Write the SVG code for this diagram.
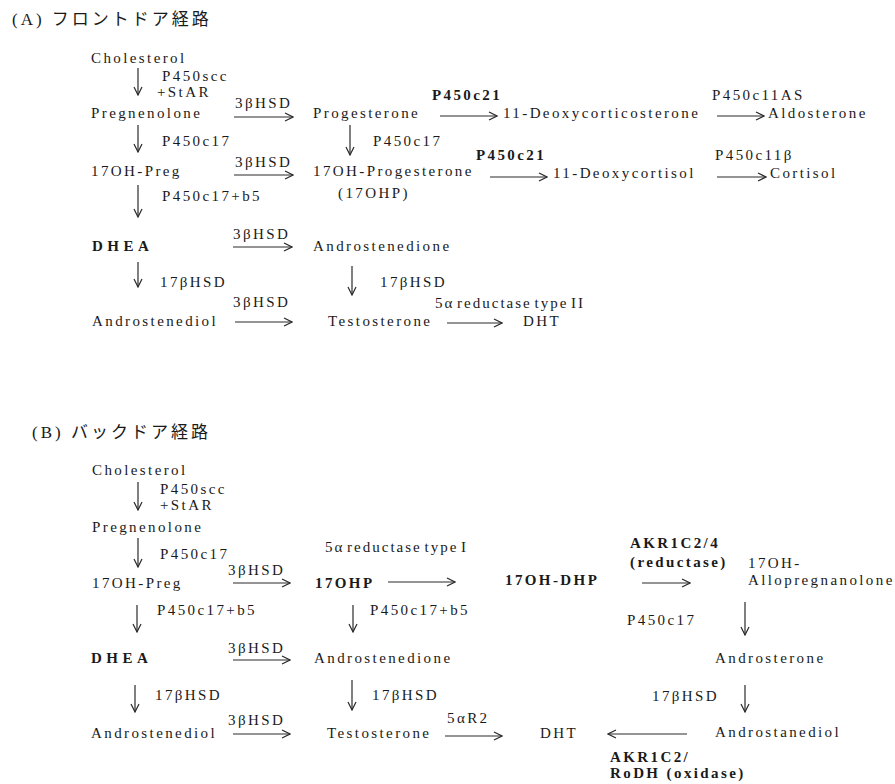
<svg xmlns="http://www.w3.org/2000/svg" width="895" height="784" viewBox="0 0 895 784">
<style>
text{font-family:'Liberation Serif','DejaVu Serif',serif;font-size:15px;fill:#1a1a1a;letter-spacing:2.4px}
.b{font-weight:bold}
.t{font-family:'Liberation Serif','Noto Sans CJK JP',serif;font-size:17px;letter-spacing:3px}
.s{letter-spacing:2px;word-spacing:-3px}
.w{letter-spacing:4.5px}
.c line{stroke:#2a2a2a;stroke-width:1.2;fill:none}
</style>
<defs>
<marker id="ah" viewBox="0 0 10 10" refX="9" refY="5" markerWidth="10" markerHeight="10" markerUnits="userSpaceOnUse" orient="auto">
<path d="M1,1 L9,5 L1,9" fill="none" stroke="#2a2a2a" stroke-width="1.2"/>
</marker>
</defs>
<rect width="895" height="784" fill="#ffffff"/>
<text class="t" x="12" y="25">(A) フロントドア経路</text>
<text class="t" x="32" y="438">(B)  バックドア経路</text>

<g id="nodes-a">
<g id="a-cholesterol"><text x="91" y="63">Cholesterol</text></g>
<g id="a-pregnenolone"><text x="91" y="118">Pregnenolone</text></g>
<g id="a-progesterone"><text x="313" y="118">Progesterone</text></g>
<g id="a-doc"><text x="503" y="118">11-Deoxycorticosterone</text></g>
<g id="a-aldosterone"><text x="768" y="118">Aldosterone</text></g>
<g id="a-17ohpreg"><text x="91" y="176">17OH-Preg</text></g>
<g id="a-17ohp"><text x="313" y="176">17OH-Progesterone</text><text x="338" y="198">(17OHP)</text></g>
<g id="a-deoxycortisol"><text x="553" y="178">11-Deoxycortisol</text></g>
<g id="a-cortisol"><text x="770" y="178">Cortisol</text></g>
<g id="a-dhea"><text class="b w" x="92" y="251">DHEA</text></g>
<g id="a-androstenedione"><text x="313" y="251">Androstenedione</text></g>
<g id="a-androstenediol"><text x="92" y="326">Androstenediol</text></g>
<g id="a-testosterone"><text x="328" y="326">Testosterone</text></g>
<g id="a-dht"><text x="523" y="326">DHT</text></g>
</g>

<g id="labels-a">
<text x="162" y="81">P450scc</text>
<text x="157" y="97">+StAR</text>
<text x="235" y="108">3βHSD</text>
<text x="162" y="146">P450c17</text>
<text x="373" y="146">P450c17</text>
<text class="b" x="432" y="100">P450c21</text>
<text x="712" y="100">P450c11AS</text>
<text x="235" y="167">3βHSD</text>
<text class="b" x="476" y="160">P450c21</text>
<text x="715" y="160">P450c11β</text>
<text x="162" y="201">P450c17+b5</text>
<text x="233" y="239">3βHSD</text>
<text x="160" y="287">17βHSD</text>
<text x="380" y="287">17βHSD</text>
<text x="233" y="307">3βHSD</text>
<text class="s" x="435" y="308">5α reductase type II</text>
</g>

<g id="nodes-b">
<g id="b-cholesterol"><text x="92" y="475">Cholesterol</text></g>
<g id="b-pregnenolone"><text x="92" y="532">Pregnenolone</text></g>
<g id="b-17ohpreg"><text x="92" y="588">17OH-Preg</text></g>
<g id="b-17ohp"><text class="b" x="315" y="588">17OHP</text></g>
<g id="b-17ohdhp"><text class="b" x="505" y="585">17OH-DHP</text></g>
<g id="b-allo"><text x="748" y="568">17OH-</text><text x="748" y="585">Allopregnanolone</text></g>
<g id="b-dhea"><text class="b w" x="91" y="663">DHEA</text></g>
<g id="b-androstenedione"><text x="314" y="663">Androstenedione</text></g>
<g id="b-androsterone"><text x="715" y="663">Androsterone</text></g>
<g id="b-androstenediol"><text x="91" y="738">Androstenediol</text></g>
<g id="b-testosterone"><text x="327" y="738">Testosterone</text></g>
<g id="b-dht"><text x="540" y="738">DHT</text></g>
<g id="b-androstanediol"><text x="715" y="737">Androstanediol</text></g>
</g>

<g id="labels-b">
<text x="160" y="494">P450scc</text>
<text x="160" y="510">+StAR</text>
<text x="160" y="559">P450c17</text>
<text x="228" y="575">3βHSD</text>
<text class="s" x="325" y="552">5α reductase type I</text>
<text class="b" x="630" y="548">AKR1C2/4</text>
<text class="b" x="630" y="567">(reductase)</text>
<text x="157" y="615">P450c17+b5</text>
<text x="370" y="615">P450c17+b5</text>
<text x="627" y="625">P450c17</text>
<text x="228" y="653">3βHSD</text>
<text x="155" y="700">17βHSD</text>
<text x="372" y="700">17βHSD</text>
<text x="652" y="701">17βHSD</text>
<text x="228" y="725">3βHSD</text>
<text x="447" y="723">5αR2</text>
<text class="b" x="610" y="762">AKR1C2/</text>
<text class="b" x="610" y="778">RoDH (oxidase)</text>
</g>

<g id="connectors" class="c">
<line x1="138" y1="68" x2="138" y2="95" marker-end="url(#ah)"/>
<line x1="234" y1="117" x2="293" y2="117" marker-end="url(#ah)"/>
<line x1="440" y1="116" x2="497" y2="116" marker-end="url(#ah)"/>
<line x1="717" y1="116" x2="764" y2="116" marker-end="url(#ah)"/>
<line x1="138" y1="125" x2="138" y2="152" marker-end="url(#ah)"/>
<line x1="350" y1="125" x2="350" y2="155" marker-end="url(#ah)"/>
<line x1="234" y1="175" x2="293" y2="175" marker-end="url(#ah)"/>
<line x1="490" y1="177" x2="547" y2="177" marker-end="url(#ah)"/>
<line x1="717" y1="177" x2="766" y2="177" marker-end="url(#ah)"/>
<line x1="138" y1="185" x2="138" y2="217" marker-end="url(#ah)"/>
<line x1="233" y1="247" x2="292" y2="247" marker-end="url(#ah)"/>
<line x1="138" y1="262" x2="138" y2="287" marker-end="url(#ah)"/>
<line x1="352" y1="266" x2="352" y2="295" marker-end="url(#ah)"/>
<line x1="235" y1="322" x2="292" y2="322" marker-end="url(#ah)"/>
<line x1="447" y1="323" x2="502" y2="323" marker-end="url(#ah)"/>

<line x1="138" y1="482" x2="138" y2="510" marker-end="url(#ah)"/>
<line x1="138" y1="538" x2="138" y2="567" marker-end="url(#ah)"/>
<line x1="233" y1="583" x2="290" y2="583" marker-end="url(#ah)"/>
<line x1="388" y1="582" x2="455" y2="582" marker-end="url(#ah)"/>
<line x1="642" y1="583" x2="690" y2="583" marker-end="url(#ah)"/>
<line x1="137" y1="605" x2="137" y2="632" marker-end="url(#ah)"/>
<line x1="353" y1="605" x2="353" y2="632" marker-end="url(#ah)"/>
<line x1="745" y1="602" x2="745" y2="635" marker-end="url(#ah)"/>
<line x1="233" y1="660" x2="290" y2="660" marker-end="url(#ah)"/>
<line x1="135" y1="685" x2="135" y2="712" marker-end="url(#ah)"/>
<line x1="352" y1="680" x2="352" y2="710" marker-end="url(#ah)"/>
<line x1="745" y1="685" x2="745" y2="712" marker-end="url(#ah)"/>
<line x1="233" y1="734" x2="290" y2="734" marker-end="url(#ah)"/>
<line x1="445" y1="736" x2="502" y2="736" marker-end="url(#ah)"/>
<line x1="687" y1="734" x2="608" y2="734" marker-end="url(#ah)"/>
</g>
</svg>
